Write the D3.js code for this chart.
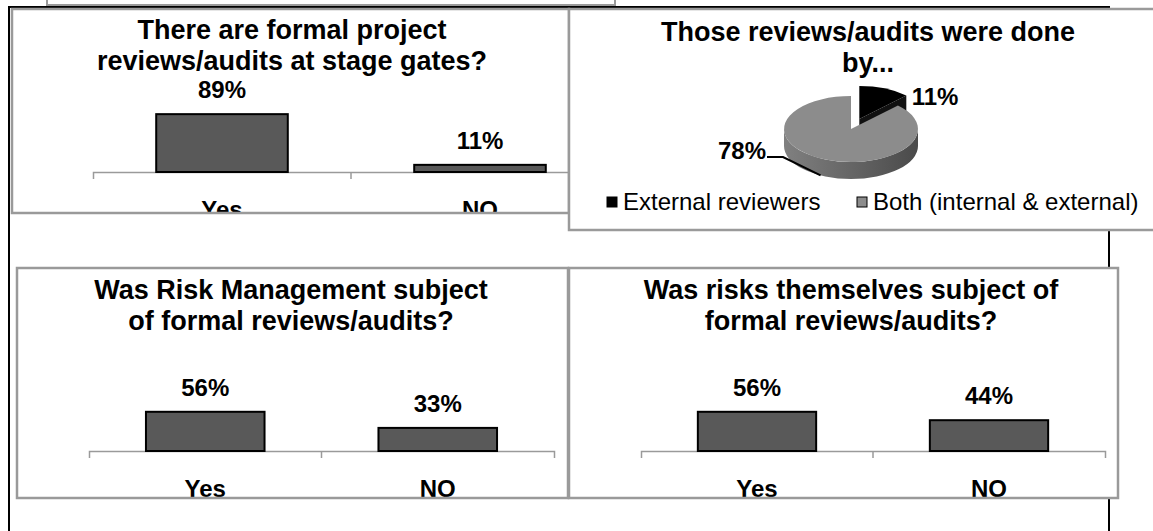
<!DOCTYPE html>
<html>
<head>
<meta charset="utf-8">
<script src="https://cdn.jsdelivr.net/npm/d3@7"></script>
<style>
  body { margin: 0; background: #fff; }
  svg { display: block; font-family: "Liberation Sans", Arial, sans-serif; }
</style>
</head>
<body>
<svg id="chart"></svg>
<script>
const width = 1153;
const height = 531;

// data
const categories = ['Yes', 'NO'];
const stageGateTitle = ['There are formal project', 'reviews/audits at stage gates?'];
const stageGateValues = [0.89, 0.11];
const riskMgmtTitle = ['Was Risk Management subject', 'of formal reviews/audits?'];
const riskMgmtValues = [0.56, 0.33];
const risksTitle = ['Was risks themselves subject of', 'formal reviews/audits?'];
const risksValues = [0.56, 0.44];
const pieTitle = ['Those reviews/audits were done', 'by...'];
const pieLabels = ['External reviewers', 'Both (internal & external)'];
const pieValues = [0.11, 0.78];

const pieColors = ['#000', '#8c8c8c'];
const barFill = '#595959';
const frameGray = '#9a9a9a';

const svg = d3.select('#chart')
  .attr('width', width)
  .attr('height', height);

const fmt = d3.format('.0%');

const defs = svg.append('defs');
const wallGrad = defs.append('linearGradient').attr('id', 'wall')
  .attr('x1', 0).attr('x2', 1).attr('y1', 0).attr('y2', 0);
wallGrad.append('stop').attr('offset', 0).attr('stop-color', '#808080');
wallGrad.append('stop').attr('offset', 1).attr('stop-color', '#4a4a4a');

// page frame behind the charts
svg.append('rect')
  .attr('x', 47).attr('y', -20).attr('width', 568).attr('height', 25)
  .attr('fill', 'none').attr('stroke', frameGray).attr('stroke-width', 2);
svg.append('path')
  .attr('d', 'M9,531V7H1109V531')
  .attr('fill', 'none').attr('stroke', '#000').attr('stroke-width', 2);

function panel(id, x, y, w, h) {
  defs.append('clipPath').attr('id', id)
    .append('rect').attr('x', x).attr('y', y).attr('width', w).attr('height', h);
  svg.append('rect')
    .attr('x', x).attr('y', y).attr('width', w).attr('height', h)
    .attr('fill', '#fff');
  const g = svg.append('g').attr('clip-path', `url(#${id})`);
  svg.append('rect')
    .attr('x', x).attr('y', y).attr('width', w).attr('height', h)
    .attr('fill', 'none').attr('stroke', frameGray).attr('stroke-width', 2.5);
  return g;
}

function drawTitle(g, lines, cx, y0) {
  g.selectAll('.title').data(lines).join('text')
    .attr('class', 'title')
    .attr('x', cx)
    .attr('y', (d, i) => y0 + i * 31)
    .attr('text-anchor', 'middle')
    .attr('font-size', 27)
    .attr('font-weight', 'bold')
    .text(d => d);
}

function barChart(g, o, title, values) {
  drawTitle(g, title, o.cx, o.titleY);

  const x = d3.scaleBand().domain(categories).range([o.x0, o.x1]);
  const y = d3.scaleLinear().domain([0, 1]).range([o.axisY, o.axisY - o.h]);
  const barW = x.bandwidth() * 0.51;
  const rows = categories.map((c, i) => ({ cat: c, value: values[i] }));

  const axis = g.append('g')
    .attr('transform', `translate(0,${o.axisY})`)
    .call(d3.axisBottom(x).tickSizeInner(0).tickSizeOuter(7).tickPadding(29));
  axis.attr('font-family', null).attr('font-size', null);
  axis.select('.domain').attr('stroke', frameGray).attr('stroke-width', 1.5);
  axis.selectAll('text')
    .attr('font-size', 24).attr('font-weight', 'bold').attr('fill', '#000');

  // tick between the two categories
  g.append('line')
    .attr('x1', x(categories[1])).attr('x2', x(categories[1]))
    .attr('y1', o.axisY).attr('y2', o.axisY + 7)
    .attr('stroke', frameGray).attr('stroke-width', 1.5);

  g.selectAll('.bar').data(rows).join('rect')
    .attr('class', 'bar')
    .attr('x', d => x(d.cat) + (x.bandwidth() - barW) / 2)
    .attr('y', d => y(d.value))
    .attr('width', barW)
    .attr('height', d => o.axisY - y(d.value))
    .attr('fill', barFill)
    .attr('stroke', '#000')
    .attr('stroke-width', 2);

  g.selectAll('.val').data(rows).join('text')
    .attr('class', 'val')
    .attr('x', d => x(d.cat) + x.bandwidth() / 2)
    .attr('y', d => y(d.value) - 16)
    .attr('text-anchor', 'middle')
    .attr('font-size', 24)
    .attr('font-weight', 'bold')
    .text(d => fmt(d.value));
}

// top left: stage gates
const g1 = panel('p1', 12, 9, 557, 204);
barChart(g1, { cx: 292, titleY: 39, x0: 93, x1: 609, axisY: 172, h: 65 }, stageGateTitle, stageGateValues);

// top right: 3d pie
const g2 = panel('p2', 569, 9, 600, 221);
drawTitle(g2, pieTitle, 868, 41);

const pcx = 851, pcy = 129, rx = 67, ry = 33, depth = 17;
const pt = (a, dy = 0) => [pcx + rx * Math.sin(a), pcy - ry * Math.cos(a) + dy];
const arcs = d3.pie().sort(null)(pieValues);

function topPath(a0, a1) {
  const p0 = pt(a0), p1 = pt(a1);
  return `M${pcx},${pcy}L${p0}A${rx},${ry} 0 ${a1 - a0 > Math.PI ? 1 : 0} 1 ${p1}Z`;
}
function wallPath(a0, a1) {
  const s = Math.max(a0, Math.PI / 2), e = Math.min(a1, 3 * Math.PI / 2);
  if (e <= s) return null;
  return `M${pt(s)}A${rx},${ry} 0 0 1 ${pt(e)}L${pt(e, depth)}A${rx},${ry} 0 0 0 ${pt(s, depth)}Z`;
}

const pieG = g2.append('g');
arcs.forEach((a, i) => {
  const mid = (a.startAngle + a.endAngle) / 2;
  const off = i === 0 ? 22 : 0;
  const sg = pieG.append('g')
    .attr('transform', `translate(${off * Math.sin(mid)},${-off * Math.cos(mid) * ry / rx})`);
  const w = wallPath(a.startAngle, a.endAngle);
  if (w) sg.append('path').attr('d', w).attr('fill', 'url(#wall)');
  if (i === 0) {
    const e = a.endAngle;
    sg.append('path')
      .attr('d', `M${pcx},${pcy}L${pt(e)}L${pt(e, depth)}L${pcx},${pcy + depth}Z`)
      .attr('fill', '#111');
  }
  sg.append('path').attr('d', topPath(a.startAngle, a.endAngle)).attr('fill', pieColors[i]);
});

// data labels
g2.append('text')
  .attr('x', 935).attr('y', 105)
  .attr('text-anchor', 'middle').attr('font-size', 24).attr('font-weight', 'bold')
  .text(fmt(pieValues[0]));
g2.append('text')
  .attr('x', 766).attr('y', 159)
  .attr('text-anchor', 'end').attr('font-size', 24).attr('font-weight', 'bold')
  .text(fmt(pieValues[1]));
g2.append('path')
  .attr('d', d3.line()([[767, 157], [783, 157], pt(207 * Math.PI / 180, depth)]))
  .attr('fill', 'none').attr('stroke', '#000').attr('stroke-width', 2);

// legend
const legend = g2.selectAll('.leg').data(pieLabels).join('g')
  .attr('class', 'leg')
  .attr('transform', (d, i) => `translate(${[607, 857][i]},197)`);
legend.append('rect')
  .attr('width', 10).attr('height', 10)
  .attr('fill', (d, i) => pieColors[i])
  .attr('stroke', '#000').attr('stroke-width', 1);
legend.append('text')
  .attr('x', 16).attr('y', 13)
  .attr('font-size', 24)
  .text(d => d);

// bottom left: risk management
const g3 = panel('p3', 17, 268, 551, 230);
barChart(g3, { cx: 291, titleY: 299, x0: 89, x1: 554, axisY: 451, h: 70 }, riskMgmtTitle, riskMgmtValues);

// bottom right: risks
const g4 = panel('p4', 569, 268, 549, 230);
barChart(g4, { cx: 851, titleY: 299, x0: 641, x1: 1105, axisY: 451, h: 70 }, risksTitle, risksValues);
</script>
</body>
</html>
